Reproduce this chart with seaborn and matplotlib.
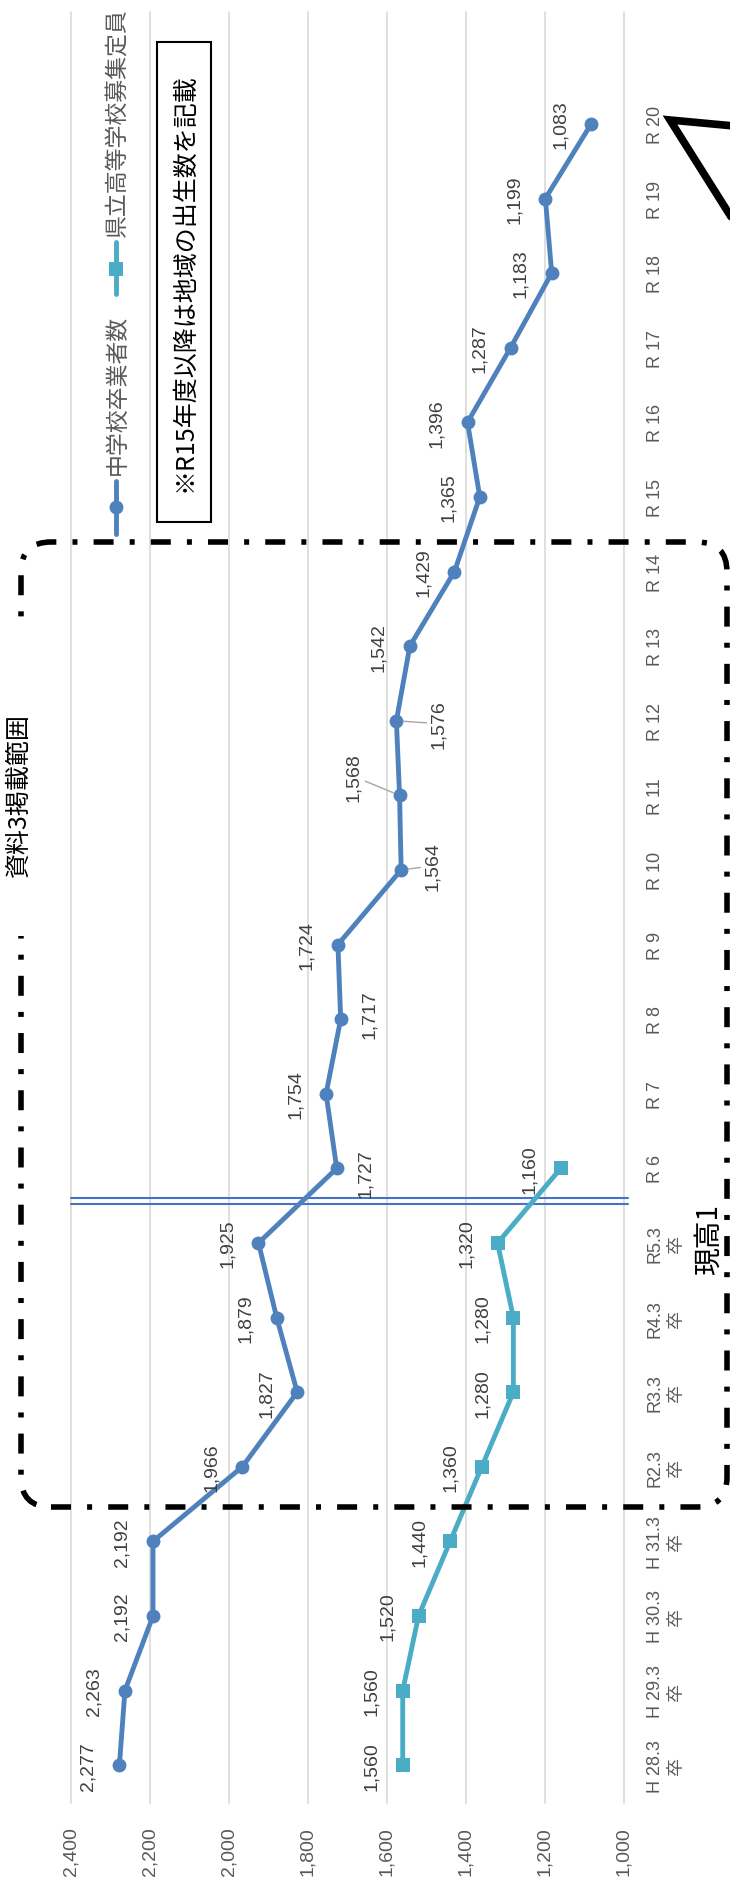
import numpy as np
import pandas as pd
import seaborn as sns
import matplotlib.pyplot as plt
from matplotlib.lines import Line2D
from matplotlib.patches import FancyBboxPatch, Rectangle

# Data (categories run bottom -> top in the rotated chart)
categories = ["H 28.3\n卒", "H 29.3\n卒", "H 30.3\n卒", "H 31.3\n卒",
              "R2.3\n卒", "R3.3\n卒", "R4.3\n卒", "R5.3\n卒",
              "R 6", "R 7", "R 8", "R 9", "R 10", "R 11", "R 12", "R 13",
              "R 14", "R 15", "R 16", "R 17", "R 18", "R 19", "R 20"]
junior_grads = [2277, 2263, 2192, 2192, 1966, 1827, 1879, 1925, 1727, 1754,
                1717, 1724, 1564, 1568, 1576, 1542, 1429, 1365, 1396, 1287,
                1183, 1199, 1083]
high_quota = [1560, 1560, 1520, 1440, 1360, 1280, 1280, 1320, 1160]
value_ticks = [2400, 2200, 2000, 1800, 1600, 1400, 1200, 1000]

series_names = ["中学校卒業者数", "県立高等学校募集定員"]
note_text = "※R15年度以降は地域の出生数を記載"
range_text = "資料3掲載範囲"
current_text = "現高1"

c1 = "#4F81BD"
c2 = "#4BACC6"
grey_txt = "#595959"
lbl_txt = "#404040"
CJK = ["Noto Sans CJK JP", "DejaVu Sans"]

# label offsets in pixels (default: left of the point)
label_offsets = {8: (29, -4), 10: (29, 6), 12: (31, 4), 13: (-46, 19), 14: (42, -3)}
leader_idx = {12, 13, 14}

W, H = 730, 1883
sns.set_style("white")
plt.rcParams["font.family"] = ["Liberation Sans", "Noto Sans CJK JP", "DejaVu Sans"]

fig = plt.figure(figsize=(W / 100, H / 100), dpi=100)
ax = fig.add_axes([70.8 / W, 1 - 1803.5 / H, (624 - 70.8) / W, (1803.5 - 13) / H])

pos = np.arange(len(categories))
df1 = pd.DataFrame({"value": junior_grads, "pos": pos})
df2 = pd.DataFrame({"value": high_quota, "pos": pos[:len(high_quota)]})

sns.lineplot(data=df1, x="value", y="pos", orient="y", sort=False, estimator=None,
             color=c1, lw=3.5, marker="o", markersize=10, mew=0, ax=ax, zorder=3)
sns.lineplot(data=df2, x="value", y="pos", orient="y", sort=False, estimator=None,
             color=c2, lw=3.5, marker="s", markersize=9.5, mew=0, ax=ax, zorder=3)

ax.set_xlim(value_ticks[0], value_ticks[-1])
ax.set_ylim(-0.5, len(categories) + 0.5)
ax.set_xlabel("")
ax.set_ylabel("")

ax.set_xticks(value_ticks)
ax.set_xticklabels([f"{v:,}" for v in value_ticks], rotation=90, fontsize=14, color=grey_txt)
ax.tick_params(axis="x", length=0, pad=17)

ax.yaxis.tick_right()
ax.set_yticks(pos)
ax.set_yticklabels(categories, rotation=90, fontsize=13, color=grey_txt,
                   va="center", ha="left", multialignment="center", linespacing=1.3)
ax.tick_params(axis="y", length=0, pad=16.5)

ax.grid(axis="x", color="#D9D9D9", lw=1.2)
ax.grid(axis="y", visible=False)
for gl in ax.get_xgridlines():
    gl.set_clip_on(False)
for s in ax.spines.values():
    s.set_visible(False)

# data labels
for i, v in enumerate(junior_grads):
    dx, dy = label_offsets.get(i, (-31, 0))
    arrow = None
    if i in leader_idx:
        arrow = dict(arrowstyle="-", color="#A6A6A6", lw=1, shrinkA=0, shrinkB=5)
    ax.annotate(f"{v:,}", xy=(v, i), xytext=(dx, dy), textcoords="offset pixels",
                rotation=90, ha="center", va="center", fontsize=14, color=lbl_txt,
                arrowprops=arrow, zorder=4)
for i, v in enumerate(high_quota):
    ax.annotate(f"{v:,}", xy=(v, i), xytext=(-31, 0), textcoords="offset pixels",
                rotation=90, ha="center", va="center", fontsize=14, color=lbl_txt, zorder=4)

# double divider between R5.3 and R6
boundary = categories.index("R 6") - 0.5 + 0.06
for yy in (boundary - 0.04, boundary + 0.04):
    ax.plot([value_ticks[0], value_ticks[-1] - 10], [yy, yy], color="#4472C4",
            lw=1.5, clip_on=False, zorder=2)

# decorations in figure pixel space (top-left origin)
tr = fig.dpi_scale_trans


def fx(x):
    return x / 100


def fy(y):
    return (H - y) / 100


# legend (drawn manually, rotated)
fig.add_artist(Line2D([fx(116)] * 2, [fy(482), fy(535)], color=c1, lw=3.5, transform=tr))
fig.add_artist(Line2D([fx(116)], [fy(508)], marker="o", ms=10, mew=0, color=c1, transform=tr))
fig.text(fx(117), fy(475), series_names[0], rotation=90, ha="center", va="bottom",
         fontsize=16.5, color=grey_txt, family=CJK, transform=tr)
fig.add_artist(Line2D([fx(116)] * 2, [fy(243), fy(295)], color=c2, lw=3.5, transform=tr))
fig.add_artist(Line2D([fx(116)], [fy(270)], marker="s", ms=9.5, mew=0, color=c2, transform=tr))
fig.text(fx(117), fy(237), series_names[1], rotation=90, ha="center", va="bottom",
         fontsize=16.5, color=grey_txt, family=CJK, transform=tr)

# note box
fig.add_artist(Rectangle((fx(157), fy(523)), 0.54, 4.80, fc="white", ec="black",
                         lw=1.5, transform=tr, zorder=4))
fig.text(fx(184), fy(283), note_text, rotation=90, ha="center", va="center",
         fontsize=18, color="black", family=CJK, transform=tr, zorder=5)

# dash-dot rounded range box
fig.add_artist(FancyBboxPatch((fx(21), fy(1508)), 7.06, 9.65,
                              boxstyle="round,pad=0,rounding_size=0.3",
                              fill=False, ec="black", lw=4,
                              ls=(0, (3.6, 2.9, 0.9, 2.9)), transform=tr, zorder=5))
fig.add_artist(Rectangle((fx(4), fy(937)), 0.32, 3.05, fc="white", ec="none",
                         transform=tr, zorder=6))
fig.text(fx(18.5), fy(795), range_text, rotation=90, ha="center", va="center",
         fontsize=18, color="black", family=CJK, transform=tr, zorder=7)

fig.text(fx(709), fy(1240), current_text, rotation=90, ha="center", va="center",
         fontsize=20, color="black", family=CJK, transform=tr, zorder=7)

# arrow head at the top right
fig.add_artist(Line2D([fx(745), fx(670), fx(745)], [fy(128), fy(121), fy(240)],
                      color="black", lw=5.5, solid_joinstyle="miter", transform=tr, zorder=7))

fig.savefig("out.png", dpi=100)
